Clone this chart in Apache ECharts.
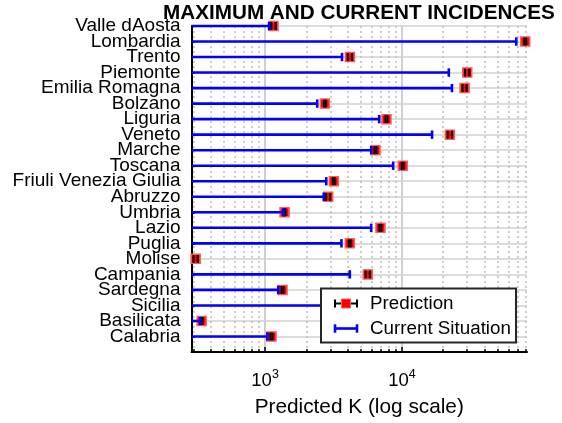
<!DOCTYPE html>
<html><head><meta charset="utf-8">
<script src="https://cdn.jsdelivr.net/npm/echarts@6/dist/echarts.min.js"></script>
<style>html,body{margin:0;padding:0;background:#fff}#c{width:562px;height:423px}</style>
</head><body><div id="c"></div>
<script>
const regions = ['Valle dAosta','Lombardia','Trento','Piemonte','Emilia Romagna','Bolzano','Liguria','Veneto','Marche','Toscana','Friuli Venezia Giulia','Abruzzo','Umbria','Lazio','Puglia','Molise','Campania','Sardegna','Sicilia','Basilicata','Calabria'];
const prediction     = [1153, 79600, 4170, 30000, 28700, 2733, 7710, 22400, 6410, 10140, 3180, 2890, 1388, 6970, 4160, 311, 5630, 1342, 3900, 344, 1115];
const predictionLow  = [1110, 78300, 4020, 28900, 27700, 2690, 7580, 21600, 6300, 9970, 3130, 2790, 1365, 6850, 4090, 300, 5430, 1320, 3840, 338, 1096];
const predictionHigh = [1195, 80900, 4320, 31100, 29700, 2780, 7840, 23200, 6520, 10310, 3230, 2990, 1411, 7090, 4230, 322, 5830, 1365, 3960, 350, 1134];
const current        = [1070, 68500, 3650, 22000, 23200, 2404, 6820, 16600, 5960, 8630, 2800, 2685, 1364, 5960, 3614, null, 4160, 1248, 3300, 335, 1038];
const majorTicks = [1000, 10000];
const minorTicks = [300,400,500,600,700,800,900,2000,3000,4000,5000,6000,7000,8000,9000,20000,30000,40000,50000,60000,70000,80000];
const xMin = 290, xMax = 82000;

const FONT = "'Liberation Sans', Arial, Helvetica, sans-serif";
const chart = echarts.init(document.getElementById('c'), null, {renderer: 'canvas'});

const predData = prediction.map((v, i) => [v, i, predictionLow[i], predictionHigh[i]]);
const curData = current.map((v, i) => [v, i]).filter(d => d[0] != null);

const option = {
  backgroundColor: '#fff',
  animation: false,
  title: {
    text: 'MAXIMUM AND CURRENT INCIDENCES',
    left: 163, top: 3, padding: 0,
    textStyle: {fontFamily: FONT, fontSize: 20.7, fontWeight: 'bold', color: '#000'}
  },
  grid: {left: 191.5, right: 35, top: 26, bottom: 69.5},
  xAxis: [{
    type: 'log', logBase: 10, min: xMin, max: xMax, position: 'bottom',
    axisLine: {show: true, lineStyle: {color: '#000', width: 2}},
    axisTick: {show: true, inside: true, length: 5, customValues: majorTicks, lineStyle: {color: '#000', width: 1.5}},
    axisLabel: {
      customValues: majorTicks, margin: 16, color: '#000', fontFamily: FONT,
      formatter: v => '{b|10}{s|' + Math.round(Math.log10(v)) + '}',
      rich: {
        b: {fontSize: 18.5, fontFamily: FONT, color: '#000', lineHeight: 22, verticalAlign: 'bottom'},
        s: {fontSize: 12.5, fontFamily: FONT, color: '#000', lineHeight: 22, verticalAlign: 'top', padding: [0, 0, 8, 0]}
      }
    },
    splitLine: {show: true, lineStyle: {color: '#cfcfcf', width: 2}},
    name: 'Predicted K (log scale)', nameLocation: 'middle', nameGap: 45,
    nameTextStyle: {fontFamily: FONT, fontSize: 20.8, color: '#000'}
  }, {
    type: 'log', logBase: 10, min: xMin, max: xMax, position: 'bottom',
    axisLine: {show: false},
    axisTick: {show: true, inside: true, length: 3, customValues: minorTicks, lineStyle: {color: '#000', width: 1.5}},
    axisLabel: {show: false},
    splitLine: {show: true, lineStyle: {color: '#bdbdbd', width: 1.5, type: [2, 3]}}
  }],
  yAxis: {
    type: 'category', data: regions.concat(['']), inverse: true, boundaryGap: false,
    axisLine: {show: true, lineStyle: {color: '#000', width: 2}},
    axisTick: {show: true, inside: true, length: 3, interval: 0, lineStyle: {color: '#000', width: 2}},
    axisLabel: {interval: 0, margin: 11, fontFamily: FONT, fontSize: 19, color: '#000'},
    splitLine: {show: true, interval: 0, lineStyle: {color: '#dcdcdc', width: 1.8}}
  },
  series: [{
    type: 'custom', name: 'Prediction', xAxisIndex: 0, z: 3,
    data: predData,
    encode: {x: [0, 2, 3], y: 1},
    renderItem: (params, api) => {
      const idx = api.value(1);
      const c = api.coord([api.value(0), idx]);
      const lo = api.coord([api.value(2), idx]);
      const hi = api.coord([api.value(3), idx]);
      const y = c[1];
      return {type: 'group', children: [
        {type: 'line', shape: {x1: lo[0], y1: y, x2: hi[0], y2: y}, style: {stroke: '#000', lineWidth: 2}},
        {type: 'rect', shape: {x: c[0] - 4.5, y: y - 4.5, width: 9, height: 9}, style: {fill: '#ff0000', stroke: '#ff5a5a', lineWidth: 1.5}},
        {type: 'line', shape: {x1: lo[0], y1: y - 4, x2: lo[0], y2: y + 4}, style: {stroke: '#000', lineWidth: 2}},
        {type: 'line', shape: {x1: hi[0], y1: y - 4, x2: hi[0], y2: y + 4}, style: {stroke: '#000', lineWidth: 2}}
      ]};
    }
  }, {
    type: 'custom', name: 'Current Situation', xAxisIndex: 0, z: 4,
    data: curData,
    encode: {x: 0, y: 1},
    renderItem: (params, api) => {
      const c = api.coord([api.value(0), api.value(1)]);
      const x0 = params.coordSys.x;
      if (c[0] < x0) return;
      const y = c[1];
      return {type: 'group', children: [
        {type: 'line', shape: {x1: x0, y1: y, x2: c[0], y2: y}, style: {stroke: '#0000ff', lineWidth: 2.6}},
        {type: 'line', shape: {x1: c[0], y1: y - 4.2, x2: c[0], y2: y + 4.2}, style: {stroke: '#0000ff', lineWidth: 2.6}}
      ]};
    }
  }],
  graphic: [
    {type: 'rect', z: 100, shape: {x: 321, y: 288.5, width: 195, height: 54}, style: {fill: '#fff', stroke: '#262626', lineWidth: 2}},
    {type: 'line', z: 101, shape: {x1: 335, y1: 303.5, x2: 357, y2: 303.5}, style: {stroke: '#000', lineWidth: 2}},
    {type: 'line', z: 101, shape: {x1: 335, y1: 299.5, x2: 335, y2: 307.5}, style: {stroke: '#000', lineWidth: 2}},
    {type: 'line', z: 101, shape: {x1: 357, y1: 299.5, x2: 357, y2: 307.5}, style: {stroke: '#000', lineWidth: 2}},
    {type: 'rect', z: 102, shape: {x: 341.5, y: 299, width: 9, height: 9}, style: {fill: '#ff0000', stroke: '#ff5a5a', lineWidth: 1}},
    {type: 'line', z: 101, shape: {x1: 335, y1: 328.5, x2: 357, y2: 328.5}, style: {stroke: '#0000ff', lineWidth: 2.6}},
    {type: 'line', z: 101, shape: {x1: 335, y1: 324.3, x2: 335, y2: 332.7}, style: {stroke: '#0000ff', lineWidth: 2.6}},
    {type: 'line', z: 101, shape: {x1: 357, y1: 324.3, x2: 357, y2: 332.7}, style: {stroke: '#0000ff', lineWidth: 2.6}},
    {type: 'text', z: 101, x: 370, y: 303.5, style: {text: 'Prediction', fontFamily: FONT, fontSize: 18.8, fill: '#000', verticalAlign: 'middle', align: 'left'}},
    {type: 'text', z: 101, x: 370, y: 328.5, style: {text: 'Current Situation', fontFamily: FONT, fontSize: 18.8, fill: '#000', verticalAlign: 'middle', align: 'left'}}
  ]
};
chart.setOption(option);
</script>
</body></html>
